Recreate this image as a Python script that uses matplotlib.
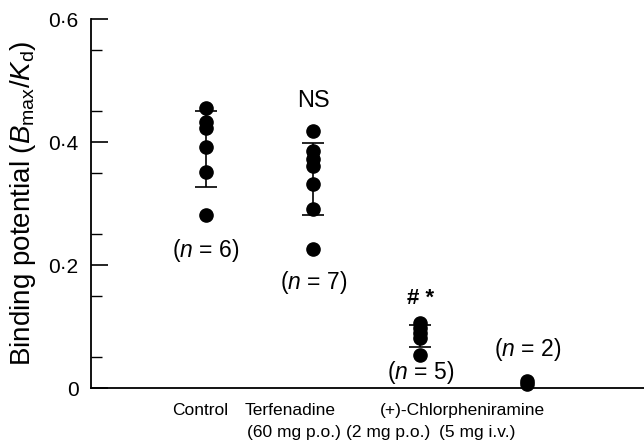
import matplotlib
matplotlib.use("Agg")
import matplotlib.pyplot as plt
import numpy as np

plt.rcParams['font.family'] = ['Liberation Sans', 'DejaVu Sans']
plt.rcParams['mathtext.fontset'] = 'custom'
plt.rcParams['mathtext.rm'] = 'Liberation Sans'
plt.rcParams['mathtext.it'] = 'Liberation Sans:italic'

# Data
groups = ["Control", "Terfenadine", "Chlor p.o.", "Chlor i.v."]
control = [0.455, 0.433, 0.423, 0.392, 0.351, 0.281]
terfenadine = [0.418, 0.385, 0.372, 0.361, 0.332, 0.291, 0.226]
chlor_po = [0.106, 0.098, 0.089, 0.081, 0.054]
chlor_iv = [0.012, 0.006]
series = [control, terfenadine, chlor_po, chlor_iv]
means = [0.389, 0.340, 0.085]
sds = [0.062, 0.059, 0.018]
n_labels = ["(${n}$ = 6)", "(${n}$ = 7)", "(${n}$ = 5)", "(${n}$ = 2)"]
sig_labels = ["", "NS", "# *", ""]
yticks = [0, 0.2, 0.4, 0.6]
ytick_labels = ["0", "0\u00b72", "0\u00b74", "0\u00b76"]

fig = plt.figure(figsize=(6.44, 4.44), dpi=100)
ax = fig.add_axes([91/644, 56/444, 553/644, 369/444])
xpos = np.arange(1, 5)
for x, vals in zip(xpos, series):
    ax.plot([x]*len(vals), vals, 'o', color='black', markersize=9.5, clip_on=False, zorder=3)
for x, m, s in zip(xpos[:3], means, sds):
    ax.errorbar(x, m, yerr=s, fmt='none', ecolor='black', elinewidth=1.2,
                capsize=8, capthick=1.2, zorder=2)

ax.set_xlim(-0.075, 5.09)
ax.set_ylim(0, 0.6)
ax.spines['top'].set_visible(False)
ax.spines['right'].set_visible(False)
ax.spines['left'].set_linewidth(1.3)
ax.spines['bottom'].set_linewidth(1.3)
ax.set_xticks([])
ax.set_yticks(yticks)
ax.set_yticklabels(ytick_labels, fontsize=15)
ax.set_yticks(np.arange(0.05, 0.6, 0.1).tolist(), minor=True)
ax.tick_params(axis='y', which='major', direction='in', length=12, width=1.2, pad=9)
ax.tick_params(axis='y', which='minor', direction='in', length=8, width=1.0)
ax.set_ylabel("Binding potential ($B_\\mathrm{max}/K_\\mathrm{d}$)", fontsize=20)
ax.yaxis.set_label_coords(-0.095, 0.5)

# annotations
n_pos = [(1, 0.223), (2, 0.171), (3, 0.026), (4, 0.062)]
for (x, y), lab in zip(n_pos, n_labels):
    ax.text(x, y, lab, ha='center', va='center', fontsize=16.5)
sig_pos = [(1, 0), (2, 0.467), (3, 0.145), (4, 0)]
for (x, y), lab in zip(sig_pos, sig_labels):
    if lab == "NS":
        ax.text(x, y, lab, ha='center', va='center', fontsize=17)
    elif lab:
        ax.text(x, y, lab, ha='center', va='center', fontsize=16, fontweight='bold')

# category labels
fs = 12.5
fig.text(200/644, 1 - 410/444, "Control", ha='center', va='center', fontsize=fs)
fig.text(290/644, 1 - 410/444, "Terfenadine", ha='center', va='center', fontsize=fs)
fig.text(294/644, 1 - 432/444, "(60 mg p.o.)", ha='center', va='center', fontsize=fs)
fig.text(462/644, 1 - 410/444, "(+)-Chlorpheniramine", ha='center', va='center', fontsize=fs)
fig.text(388/644, 1 - 432/444, "(2 mg p.o.)", ha='center', va='center', fontsize=fs)
fig.text(477/644, 1 - 432/444, "(5 mg i.v.)", ha='center', va='center', fontsize=fs)

fig.savefig("out.png", dpi=100)
